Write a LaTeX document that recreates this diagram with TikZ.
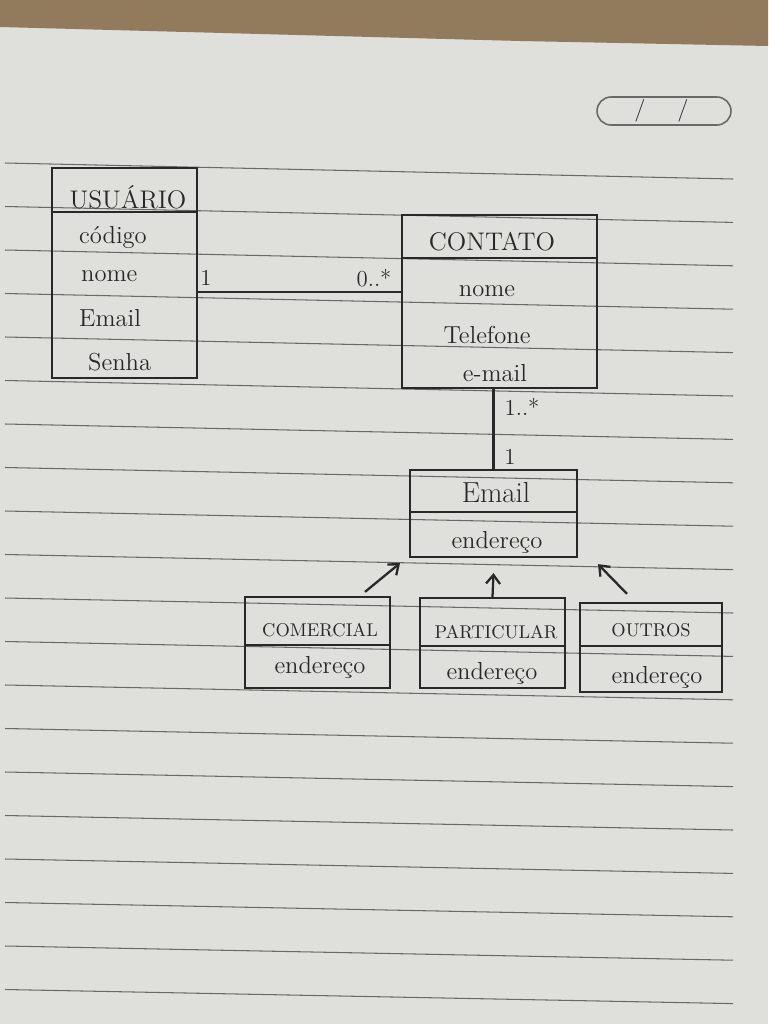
\documentclass[tikz,border=0pt]{standalone}
\usetikzlibrary{calc,arrows.meta}
\definecolor{paper}{RGB}{223,223,219}
\definecolor{wood}{RGB}{146,122,92}
\definecolor{rule}{RGB}{105,105,103}
\definecolor{ink}{RGB}{40,40,40}
\begin{document}
\begin{tikzpicture}[x=0.02cm,y=-0.02cm,
  classbox/.style={draw=ink,line width=1.3pt,inner sep=0pt},
  sepline/.style={draw=ink,line width=1.3pt},
  assoc/.style={draw=ink,line width=1.3pt},
  genarrow/.style={draw=ink,line width=1.3pt,-{Straight Barb[length=5pt,width=8pt]}},
  bigtitle/.style={text=ink,font=\fontsize{14.5}{16}\selectfont},
  smalltitle/.style={text=ink,font=\fontsize{10.5}{12}\selectfont},
  attr/.style={text=ink,font=\fontsize{14}{16}\selectfont},
  mult/.style={text=ink,font=\fontsize{13}{15}\selectfont},
  paperline/.style={draw=rule,line width=0.6pt}]
% background
\useasboundingbox (0,0) rectangle (768,1024);
\fill[paper] (0,0) rectangle (768,1024);
\fill[wood] (0,0) -- (768,0) -- (768,46) -- (520,41) -- (0,27) -- cycle;
% ruled lines
\foreach \i in {0,...,19} {
  \draw[paperline] (5,{163+43.5*\i}) -- (733,{179+43.4*\i});
}
% date box
\node[draw=rule,line width=0.9pt,rounded corners=0.28cm,minimum width=2.68cm,minimum height=0.56cm] (datebox) at (664,111) {};
\node[text=ink,font=\fontsize{13}{15}\selectfont] (dateslash1) at (640,111) {/};
\node[text=ink,font=\fontsize{13}{15}\selectfont] (dateslash2) at (683,111) {/};

% USUARIO
\node[classbox,minimum width=2.9cm,minimum height=4.2cm] (usuario) at (124.5,273) {};
\draw[sepline] (usuario.west |- 0,212) -- (usuario.east |- 0,212);
\node[bigtitle] (usuarioT) at (128,197) {USUÁRIO};
\node[attr,anchor=west] (usuarioA1) at (73,237) {código};
\node[attr,anchor=west] (usuarioA2) at (75,276) {nome};
\node[attr,anchor=west] (usuarioA3) at (73,318) {Email};
\node[attr,anchor=west] (usuarioA4) at (82,362) {Senha};

% CONTATO
\node[classbox,minimum width=3.9cm,minimum height=3.46cm] (contato) at (499.5,301.5) {};
\draw[sepline] (contato.west |- 0,258) -- (contato.east |- 0,258);
\node[bigtitle] (contatoT) at (492,242) {CONTATO};
\node[attr] (contatoA1) at (487,291) {nome};
\node[attr] (contatoA2) at (487,335) {Telefone};
\node[attr] (contatoA3) at (495,373) {e-mail};

% Email
\node[classbox,minimum width=3.34cm,minimum height=1.74cm] (email) at (493.5,513.5) {};
\draw[sepline] (email.west |- 0,512) -- (email.east |- 0,512);
\node[text=ink,font=\fontsize{16.5}{18}\selectfont] (emailT) at (496,493) {Email};
\node[attr] (emailA1) at (497,542) {endereço};

% subclasses
\node[classbox,minimum width=2.9cm,minimum height=1.82cm] (comercial) at (317.5,642.5) {};
\draw[sepline] (comercial.west |- 0,645) -- (comercial.east |- 0,645);
\node[smalltitle] (comercialT) at (320,630) {COMERCIAL};
\node[attr] (comercialA1) at (320,667) {endereço};

\node[classbox,minimum width=2.9cm,minimum height=1.8cm] (particular) at (492.5,643) {};
\draw[sepline] (particular.west |- 0,646) -- (particular.east |- 0,646);
\node[smalltitle] (particularT) at (496,632) {PARTICULAR};
\node[attr] (particularA1) at (492,673) {endereço};

\node[classbox,minimum width=2.84cm,minimum height=1.78cm] (outros) at (651,647.5) {};
\draw[sepline] (outros.west |- 0,646) -- (outros.east |- 0,646);
\node[smalltitle] (outrosT) at (651,630) {OUTROS};
\node[attr] (outrosA1) at (657,677) {endereço};

% association USUARIO - CONTATO
\draw[assoc] (usuario.east |- 0,292) -- (contato.west |- 0,292);
\node[mult] (m1) at (206,278) {1};
\node[mult] (m2) at (374,278) {0..*};

% association CONTATO - Email
\draw[assoc] (email.north |- contato.south) -- (email.north);
\node[mult] (m3) at (522,407) {1..*};
\node[mult] (m4) at (510,457) {1};

% generalisations
\draw[genarrow] ($(comercial.north)+(47.5,-4)$) -- ($(email.south)+(-93.5,5)$);
\draw[genarrow] (particular.north) -- ($(email.south)+(0,15)$);
\draw[genarrow] ($(outros.north)+(-24,-8)$) -- ($(email.south)+(104.5,6)$);
\end{tikzpicture}
\end{document}
